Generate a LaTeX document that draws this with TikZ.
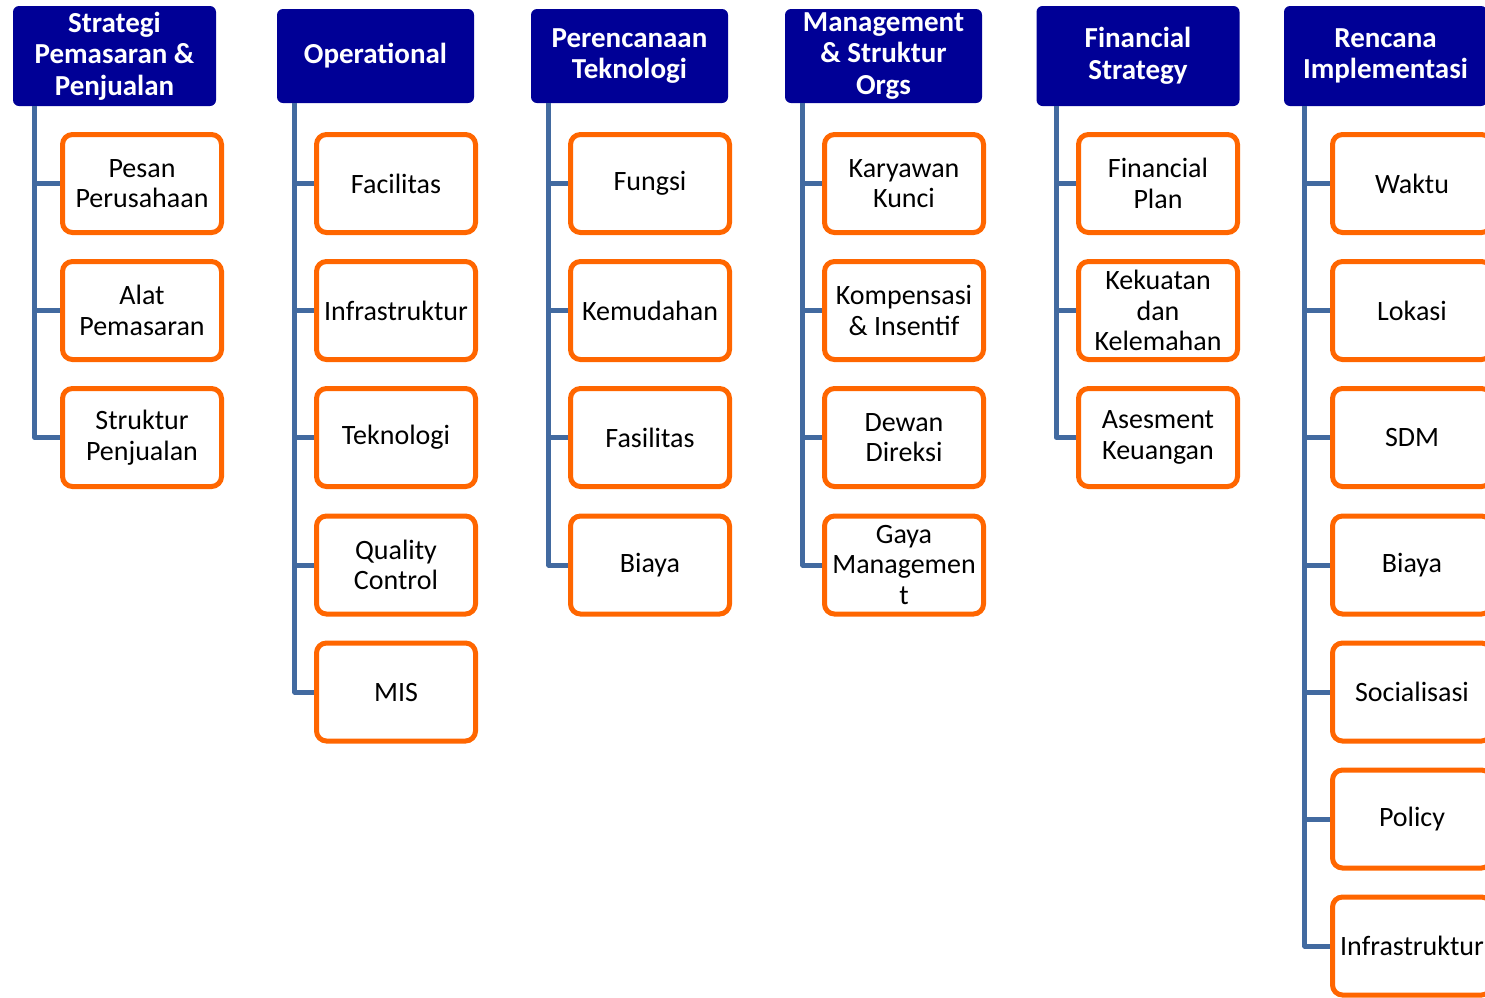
\documentclass[tikz,border=0pt]{standalone}
\usepackage{fontspec}
\setmainfont{Carlito}
\definecolor{headblue}{RGB}{0,0,150}
\definecolor{boxorange}{RGB}{255,102,0}
\definecolor{trunkblue}{RGB}{66,106,160}
\begin{document}
\begin{tikzpicture}[x=1pt,y=-1pt]
  \tikzset{HeadStyle/.style={fill=headblue, rounded corners=6pt, text=white,
      font=\fontsize{29}{31.5}\selectfont\bfseries, align=center,
      minimum width=203pt, minimum height=100pt, inner sep=0pt},
    ItemStyle/.style={draw=boxorange, line width=5pt, fill=white, rounded corners=10pt,
      font=\fontsize{28}{30.5}\selectfont, align=center,
      minimum width=159pt, minimum height=98pt, inner sep=0pt},
    TrunkStyle/.style={draw=trunkblue, line width=5pt, line join=round}
  }
  \useasboundingbox (0,0) rectangle (1485,997);
  \clip (0,0) rectangle (1485,997);
  % headers
  \node[HeadStyle] (h1) at (114.5,56) {Strategi\\Pemasaran \&\\Penjualan};
  \node[HeadStyle,minimum width=197pt,minimum height=94pt] (h2) at (375.5,56) {Operational};
  \node[HeadStyle,minimum width=197pt,minimum height=94pt] (h3) at (629.5,56) {Perencanaan\\Teknologi};
  \node[HeadStyle,minimum width=197pt,minimum height=94pt] (h4) at (883.5,56) {Management\\\& Struktur\\Orgs};
  \node[HeadStyle] (h5) at (1138,56) {Financial\\Strategy};
  \node[HeadStyle] (h6) at (1385.5,56) {Rencana\\Implementasi};
  % column 1
  \node[ItemStyle] (a1) at (142,183.5) {Pesan\\Perusahaan};
  \node[ItemStyle] (a2) at (142,310.5) {Alat\\Pemasaran};
  \node[ItemStyle] (a3) at (142,437.5) {Struktur\\Penjualan};
  % column 2
  \node[ItemStyle] (b1) at (396,183.5) {Facilitas};
  \node[ItemStyle] (b2) at (396,310.5) {Infrastruktur};
  \node[ItemStyle] (b3) at (396,437.5) {Teknologi};
  \node[ItemStyle] (b4) at (396,565) {Quality\\Control};
  \node[ItemStyle] (b5) at (396,692) {MIS};
  % column 3
  \node[ItemStyle] (c1) at (650,183.5) {Fungsi};
  \node[ItemStyle] (c2) at (650,310.5) {Kemudahan};
  \node[ItemStyle] (c3) at (650,437.5) {Fasilitas};
  \node[ItemStyle] (c4) at (650,565) {Biaya};
  % column 4
  \node[ItemStyle] (d1) at (904,183.5) {Karyawan\\Kunci};
  \node[ItemStyle] (d2) at (904,310.5) {Kompensasi\\\& Insentif};
  \node[ItemStyle] (d3) at (904,437.5) {Dewan\\Direksi};
  \node[ItemStyle] (d4) at (904,565) {Gaya\\Managemen\\t};
  % column 5
  \node[ItemStyle] (e1) at (1158,183.5) {Financial\\Plan};
  \node[ItemStyle] (e2) at (1158,310.5) {Kekuatan\\dan\\Kelemahan};
  \node[ItemStyle] (e3) at (1158,437.5) {Asesment\\Keuangan};
  % column 6
  \node[ItemStyle] (f1) at (1412,183.5) {Waktu};
  \node[ItemStyle] (f2) at (1412,310.5) {Lokasi};
  \node[ItemStyle] (f3) at (1412,437.5) {SDM};
  \node[ItemStyle] (f4) at (1412,565) {Biaya};
  \node[ItemStyle] (f5) at (1412,692) {Socialisasi};
  \node[ItemStyle] (f6) at (1412,819) {Policy};
  \node[ItemStyle] (f7) at (1412,946) {Infrastruktur};
  % trunks
  \draw[TrunkStyle] ([xshift=22pt]h1.south west) |- (a1.west);
  \draw[TrunkStyle] ([xshift=22pt]h1.south west) |- (a2.west);
  \draw[TrunkStyle] ([xshift=22pt]h1.south west) |- (a3.west);
  \draw[TrunkStyle] ([xshift=18pt]h2.south west) |- (b1.west);
  \draw[TrunkStyle] ([xshift=18pt]h2.south west) |- (b2.west);
  \draw[TrunkStyle] ([xshift=18pt]h2.south west) |- (b3.west);
  \draw[TrunkStyle] ([xshift=18pt]h2.south west) |- (b4.west);
  \draw[TrunkStyle] ([xshift=18pt]h2.south west) |- (b5.west);
  \draw[TrunkStyle] ([xshift=18pt]h3.south west) |- (c1.west);
  \draw[TrunkStyle] ([xshift=18pt]h3.south west) |- (c2.west);
  \draw[TrunkStyle] ([xshift=18pt]h3.south west) |- (c3.west);
  \draw[TrunkStyle] ([xshift=18pt]h3.south west) |- (c4.west);
  \draw[TrunkStyle] ([xshift=18pt]h4.south west) |- (d1.west);
  \draw[TrunkStyle] ([xshift=18pt]h4.south west) |- (d2.west);
  \draw[TrunkStyle] ([xshift=18pt]h4.south west) |- (d3.west);
  \draw[TrunkStyle] ([xshift=18pt]h4.south west) |- (d4.west);
  \draw[TrunkStyle] ([xshift=20pt]h5.south west) |- (e1.west);
  \draw[TrunkStyle] ([xshift=20pt]h5.south west) |- (e2.west);
  \draw[TrunkStyle] ([xshift=20pt]h5.south west) |- (e3.west);
  \draw[TrunkStyle] ([xshift=21pt]h6.south west) |- (f1.west);
  \draw[TrunkStyle] ([xshift=21pt]h6.south west) |- (f2.west);
  \draw[TrunkStyle] ([xshift=21pt]h6.south west) |- (f3.west);
  \draw[TrunkStyle] ([xshift=21pt]h6.south west) |- (f4.west);
  \draw[TrunkStyle] ([xshift=21pt]h6.south west) |- (f5.west);
  \draw[TrunkStyle] ([xshift=21pt]h6.south west) |- (f6.west);
  \draw[TrunkStyle] ([xshift=21pt]h6.south west) |- (f7.west);
\end{tikzpicture}
\end{document}
